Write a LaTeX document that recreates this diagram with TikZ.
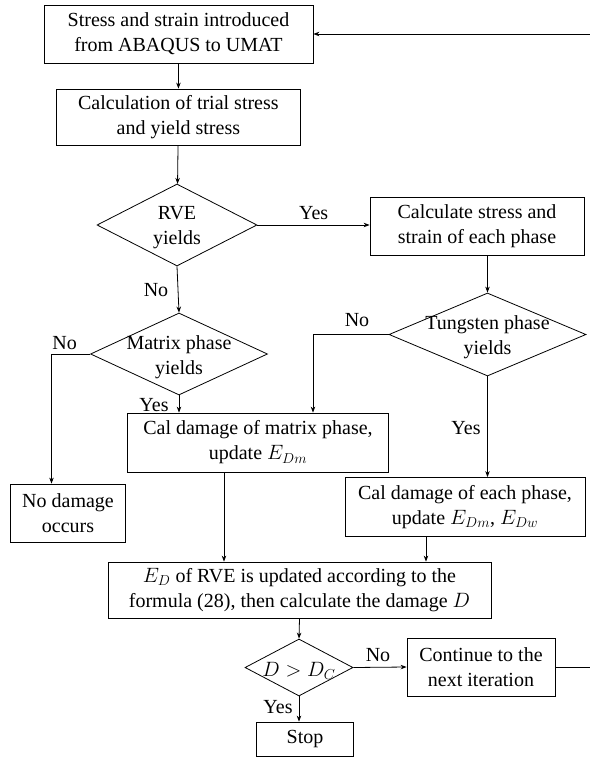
\documentclass[tikz,border=0pt]{standalone}
\usepackage{fontspec}
\setmainfont{Liberation Serif}
\newfontfamily\timesfont{Liberation Serif}
\usetikzlibrary{arrows.meta, shapes.geometric}
\tikzset{
  every picture/.style={line width=0.8pt},
  box/.style={draw, align=center, inner sep=0pt},
  decision/.style={draw, diamond, inner sep=0pt, label={[align=center, yshift=-3pt]center:#1}},
  arrow/.style={-{Stealth[length=6pt, width=4.5pt]}},
  lbl/.style={inner sep=0pt},
}
\begin{document}
\begin{tikzpicture}[x=1pt, y=-1pt, every node/.append style={font=\timesfont\fontsize{20}{25}\selectfont}]
  \useasboundingbox (0,0) rectangle (589,757);
  % boxes and decisions
  \node[box, minimum width=269pt, minimum height=58pt] (start) at (178.5,34) {Stress and strain introduced\\from ABAQUS to UMAT};
  \node[box, minimum width=244pt, minimum height=56pt] (trial) at (178.4,117) {Calculation of trial stress\\and yield stress};
  \node[decision={RVE\\yields}, minimum width=160pt, minimum height=82pt] (rve) at (177,225) {};
  \node[box, minimum width=214pt, minimum height=58pt] (phases) at (477,226) {Calculate stress and\\strain of each phase};
  \node[decision={Tungsten phase\\yields}, minimum width=197pt, minimum height=83pt] (tung) at (487.5,334.5) {};
  \node[decision={Matrix phase\\yields}, minimum width=177pt, minimum height=82pt] (matrix) at (179,354) {};
  \node[box, minimum width=115pt, minimum height=58pt] (nodmg) at (68,513) {No damage\\occurs};
  \node[box, minimum width=261pt, minimum height=59pt] (calm) at (258,442.5) {Cal damage of matrix phase,\\update $E_{Dm}$};
  \node[box, minimum width=240pt, minimum height=59pt] (calw) at (465,507) {Cal damage of each phase,\\update $E_{Dm}$, $E_{Dw}$};
  \node[box, minimum width=383pt, minimum height=56pt] (upd) at (299.5,590) {$E_D$ of RVE is updated according to the\\formula (28), then calculate the damage $D$};
  \node[decision={$D>D_C$}, minimum width=108pt, minimum height=57pt] (dc) at (299,667.5) {};
  \node[box, minimum width=148pt, minimum height=58pt] (cont) at (481,667) {Continue to the\\next iteration};
  \node[box, minimum width=97pt, minimum height=34pt] (stop) at (305,739) {Stop};
  % branch labels
  \node[lbl] (yesrve) at (313.7,213) {Yes};
  \node[lbl] (norve) at (156,290) {No};
  \node[lbl] (notung) at (357,320) {No};
  \node[lbl] (nomatrix) at (64.6,343) {No};
  \node[lbl] (yesmatrix) at (154,405) {Yes};
  \node[lbl] (yestung) at (466,428) {Yes};
  \node[lbl] (nodc) at (378,655) {No};
  \node[lbl] (yesdc) at (278,707) {Yes};
  % connectors
  \coordinate (edge) at (595,0);
  \draw[arrow] (start) -- (trial);
  \draw[arrow] (trial) -- (rve);
  \draw[arrow] (rve.east) -- (rve.east -| phases.west);
  \draw[arrow] (tung.north |- phases.south) -- (tung.north);
  \draw[arrow] (rve.south) -- (matrix.north);
  \draw[arrow] (matrix.west) -| ([xshift=-16.5pt]nodmg.north);
  \draw[arrow] (matrix.south) -- (matrix.south |- calm.north);
  \draw[arrow] (tung.west) -| ([xshift=55pt]calm.north);
  \draw[arrow] (tung.south) -- (tung.south |- calw.north);
  \draw[arrow] ([xshift=-34pt]calm.south) -- ([xshift=-34pt]calm.south |- upd.north);
  \draw[arrow] ([xshift=-39pt]calw.south) -- ([xshift=-39pt]calw.south |- upd.north);
  \draw[arrow] (upd.south) -- (dc.north);
  \draw[arrow] (dc.east) -- (cont.west);
  \draw[arrow] (dc.south) -- (dc.south |- stop.north);
  \draw[arrow] (cont.east) -- (cont.east -| edge) -- (start.east -| edge) -- (start.east);
\end{tikzpicture}
\end{document}
